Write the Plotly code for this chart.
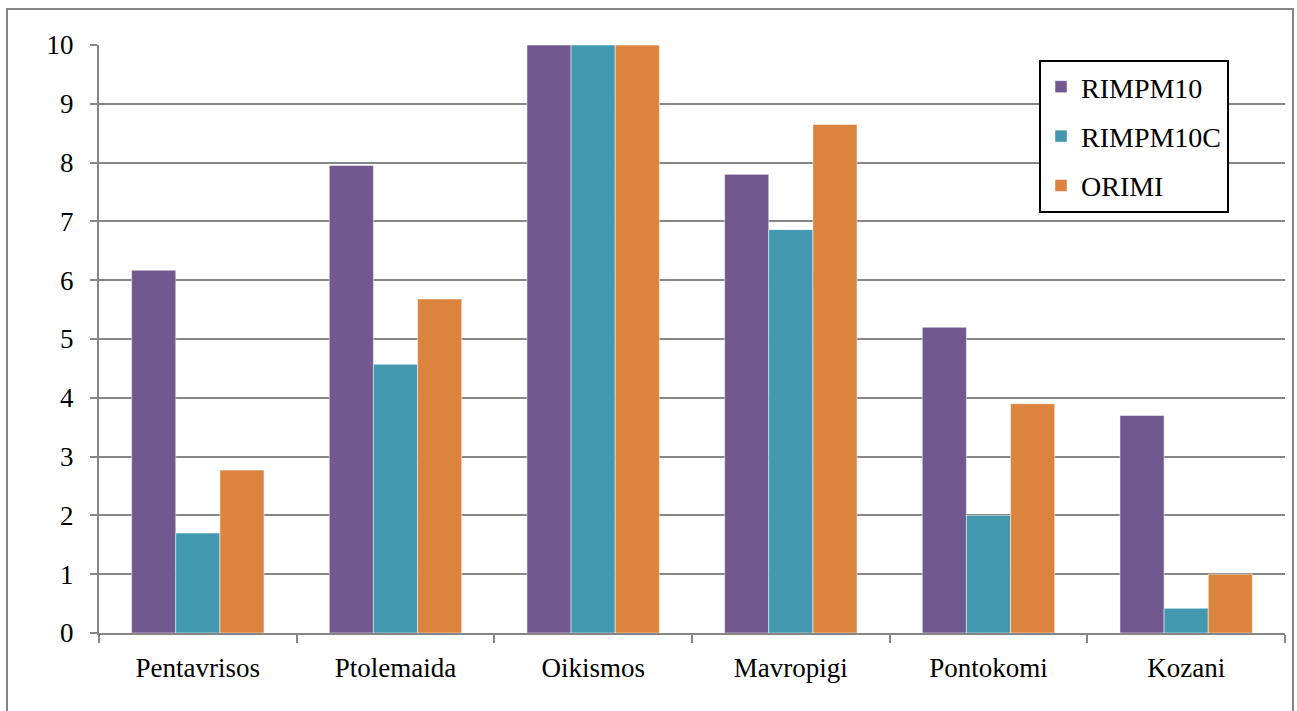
import plotly.graph_objects as go

categories = ["Pentavrisos", "Ptolemaida", "Oikismos", "Mavropigi", "Pontokomi", "Kozani"]
rimpm10 = [6.17, 7.95, 10.0, 7.80, 5.20, 3.70]
rimpm10c = [1.70, 4.57, 10.0, 6.86, 2.00, 0.42]
orimi = [2.77, 5.68, 10.0, 8.65, 3.90, 1.00]
y_ticks = list(range(0, 11))

series = [
    ("RIMPM10", rimpm10, "#71588F"),
    ("RIMPM10C", rimpm10c, "#4198AF"),
    ("ORIMI", orimi, "#DB843D"),
]

SERIF = "Liberation Serif"

fig = go.Figure()
for name, vals, col in series:
    fig.add_trace(go.Bar(
        x=categories, y=vals, name=name, legendgroup=name,
        marker=dict(color=col, line=dict(color="rgba(255,255,255,0.5)", width=1)),
    ))

fig.update_layout(
    width=1297, height=711,
    margin=dict(l=99, r=12, t=45, b=78),
    paper_bgcolor="white", plot_bgcolor="white",
    barmode="group", bargap=0.33, bargroupgap=0,
    font=dict(family=SERIF, size=27, color="#000000"),
    showlegend=True,
    legend=dict(
        x=(1039 - 99) / 1186, y=1 + (45 - 60) / 588,
        xanchor="left", yanchor="top",
        bordercolor="#000000", borderwidth=2,
        bgcolor="white",
        font=dict(family=SERIF, size=28, color="#000000"),
        tracegroupgap=10, itemwidth=30,
    ),
    xaxis=dict(
        showline=True, linecolor="#868686", linewidth=2,
        ticks="outside", tickson="boundaries", ticklen=8, tickcolor="#868686", tickwidth=2,
        showgrid=False,
        tickfont=dict(family=SERIF, size=27, color="#000000"),
        ticklabelstandoff=10,
    ),
    yaxis=dict(
        range=[0, 10], tickvals=y_ticks,
        showline=True, linecolor="#868686", linewidth=2,
        ticks="outside", ticklen=7, tickcolor="#868686", tickwidth=2,
        showgrid=True, gridcolor="#868686", gridwidth=2,
        zeroline=False,
        tickfont=dict(family=SERIF, size=27, color="#000000"),
        ticklabelstandoff=11,
    ),
    shapes=[dict(
        type="rect", xref="paper", yref="paper",
        x0=(7 - 99) / 1186, x1=(1293 - 99) / 1186,
        y0=-0.3, y1=1 + (45 - 9) / 588,
        line=dict(color="#868686", width=2), fillcolor="rgba(0,0,0,0)",
        layer="below",
    )],
)

fig.write_html("out.html")
